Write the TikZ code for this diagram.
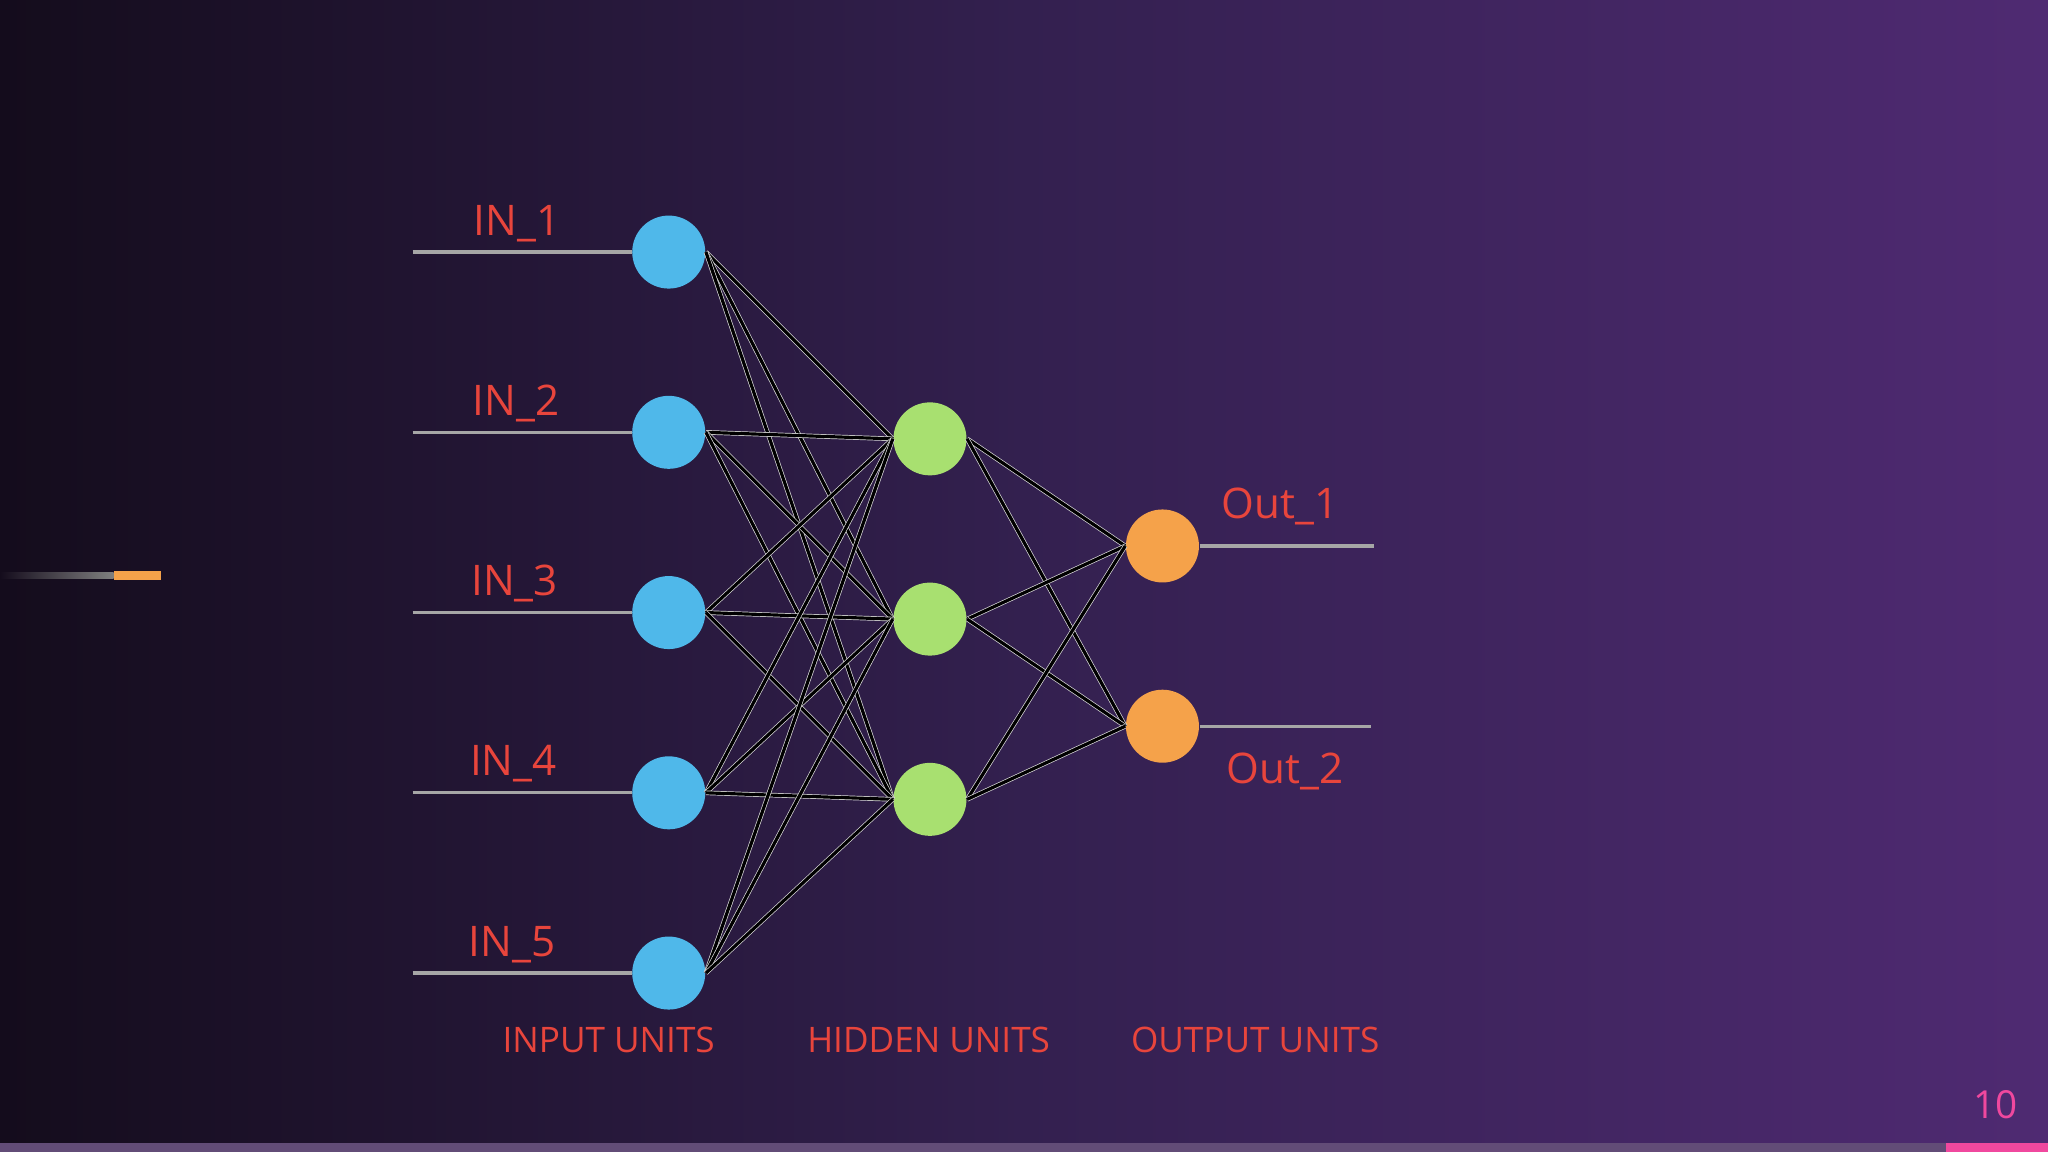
\documentclass[tikz,border=0pt]{standalone}
\usepackage{fontspec}
\setmainfont{Open Sans}
\definecolor{bgA}{HTML}{140C1C}
\definecolor{bgM}{HTML}{33204F}
\definecolor{bgB}{HTML}{4F2A72}
\definecolor{inc}{HTML}{4FB8EA}
\definecolor{hidc}{HTML}{A8E070}
\definecolor{outc}{HTML}{F5A24A}
\definecolor{lbl}{HTML}{E8453C}
\definecolor{pinkc}{HTML}{F0489E}
\begin{document}
\begin{tikzpicture}[x=0.013061cm,y=-0.013061cm,
  inn/.style={circle,fill=inc,minimum size=0.73cm,inner sep=0},
  hid/.style={circle,fill=hidc,minimum size=0.73cm,inner sep=0},
  outn/.style={circle,fill=outc,minimum size=0.73cm,inner sep=0},
  lab/.style={text=lbl,font=\fontsize{12}{14}\selectfont},
  blab/.style={text=lbl,font=\fontsize{10}{12}\selectfont},
  wire/.style={draw=gray!70!white,line width=0.9pt},
  conn/.style={draw=black,line width=0.9pt,preaction={draw=white!70!gray,line width=1.3pt}}]
\useasboundingbox (0,0) rectangle (1568,882);
\shade[left color=bgA,right color=bgB,middle color=bgM] (0,0) rectangle (1568,882);
\fill[bgB!60!gray] (0,875) rectangle (1568,882);
\fill[pinkc] (1490,875) rectangle (1568,882);
\shade[left color=bgA,right color=gray] (0,438) rectangle (87,443);
\fill[outc] (87,437) rectangle (123,444);
\node[text=pinkc,font=\fontsize{11}{13}\selectfont] (pg) at (1528,846) {10};
\foreach \i/\y in {1/193,2/331,3/469,4/607,5/745}{
  \node[inn] (i\i) at (512,\y) {};
  \coordinate (s\i) at (316,\y);
  \draw[wire] (s\i) -- (i\i.west);
  \node[lab] (li\i) at (397-\i,\y-22) {IN\_\i};
}
\foreach \j/\y in {1/336,2/474,3/612}{ \node[hid] (h\j) at (712,\y) {}; }
\node[outn] (o1) at (890,418) {};
\node[outn] (o2) at (890,556) {};
\coordinate (e1) at (1052,418);
\coordinate (e2) at (1050,556);
\draw[wire] (o1.east) -- (e1);
\draw[wire] (o2.east) -- (e2);
\foreach \i in {1,...,5}{\foreach \j in {1,2,3}{ \path[conn] (i\i.east) -- (h\j.west); }}
\foreach \j in {1,2,3}{\foreach \k in {1,2}{ \path[conn] (h\j.east) -- (o\k.west); }}
\node[lab] (lo1) at (980,388) {Out\_1};
\node[lab] (lo2) at (984,591) {Out\_2};
\node[blab] (t1) at (466,796) {INPUT UNITS};
\node[blab] (t2) at (711,796) {HIDDEN UNITS};
\node[blab] (t3) at (961,796) {OUTPUT UNITS};
\end{tikzpicture}
\end{document}
